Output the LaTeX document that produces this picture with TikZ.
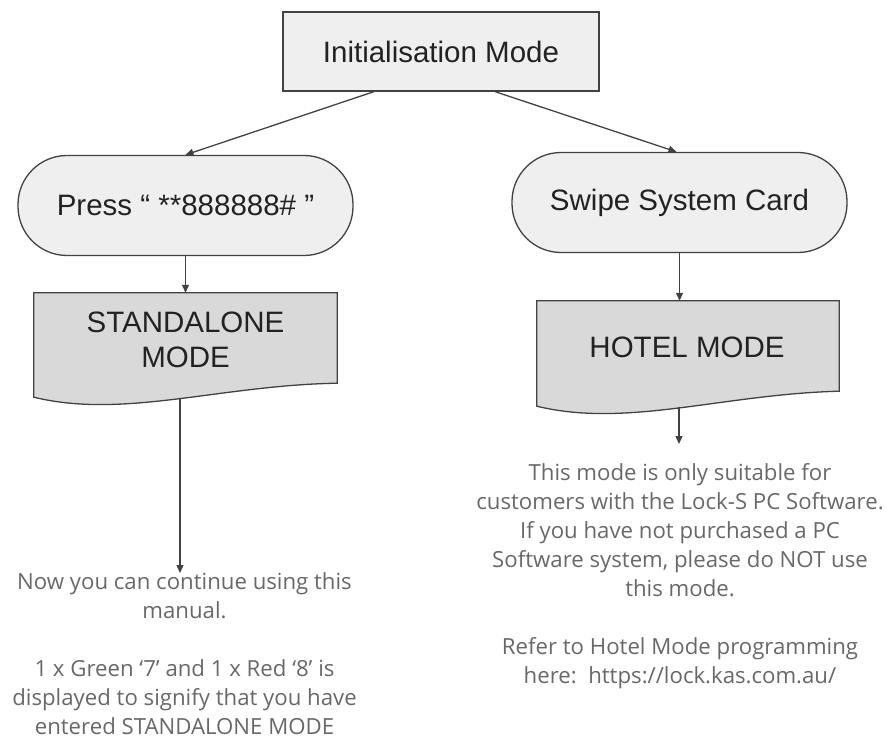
\documentclass[tikz,border=0pt]{standalone}
\usepackage{fontspec}
\setmainfont{Liberation Sans}
\newfontfamily\notefont{Open Sans}
\usetikzlibrary{arrows.meta,calc}
\definecolor{lightbox}{HTML}{EFEFEF}
\definecolor{darkbox}{HTML}{D9D9D9}
\definecolor{edge}{HTML}{424242}
\definecolor{boxtext}{HTML}{222222}
\definecolor{notetext}{HTML}{686868}
\tikzset{
  initbox/.style={draw=edge, fill=lightbox, line width=1.3pt, minimum width=316pt, minimum height=79pt,
    font=\fontsize{29.5}{35}\selectfont, text=boxtext, inner sep=0pt},
  pill/.style={draw=edge, fill=lightbox, line width=1.3pt, rounded corners=49pt, minimum height=100pt,
    font=\fontsize{29.5}{35}\selectfont, text=boxtext, inner sep=0pt},
  docbody/.style={minimum width=#1, inner sep=0pt, draw=none},
  doctext/.style={font=\fontsize{29.5}{35}\selectfont, text=boxtext, align=center, inner sep=0pt},
  docshape/.style={draw=edge, fill=darkbox, line width=1.3pt},
  note/.style={font=\notefont\fontsize{22.2}{29}\selectfont, text=notetext, align=center, inner sep=0pt},
  arr/.style={draw=edge, line width=1.3pt, -{Stealth[length=8pt,width=7pt,inset=0pt]}}
}
\begin{document}
\begin{tikzpicture}[x=1pt,y=-1pt]
\useasboundingbox (0,0) rectangle (887,738);
% top box
\node[initbox] (init) at (441,51.5) {Initialisation Mode};
% pills
\node[pill, minimum width=335pt] (lp) at (185.5,205.5) {Press “ **888888\# ”};
\node[pill, minimum width=335pt] (rp) at (679.5,202.5) {Swipe System Card};
% document bodies
\node[docbody=303pt, minimum height=104pt] (sa) at (185.5,345) {};
\node[docbody=302pt, minimum height=105pt] (hm) at (688,353.5) {};
\path[docshape] (sa.north west) -- (sa.north east) -- ([yshift=14pt]sa.south east)
  .. controls ($(sa.south west)+(186,-12)$) and ($(sa.south west)+(90,22)$) .. (sa.south west) -- cycle;
\path[docshape] (hm.north west) -- (hm.north east) -- ([yshift=15pt]hm.south east)
  .. controls ($(hm.south west)+(186,-12)$) and ($(hm.south west)+(90,22)$) .. (hm.south west) -- cycle;
\node[doctext] (satxt) at (185.5,339.5) {STANDALONE\\MODE};
\node[doctext] (hmtxt) at (687,347) {HOTEL MODE};
% notes
\node[note] (lnote) at (184.5,653.5) {Now you can continue using this\\manual.\\[29pt]1 x Green ‘7’ and 1 x Red ‘8’ is\\displayed to signify that you have\\entered STANDALONE MODE};
\node[note] (rnote) at (680,576.5) {This mode is only suitable for\\customers with the Lock-S PC Software.\\If you have not purchased a PC\\Software system, please do NOT use\\this mode.\\[29pt]Refer to Hotel Mode programming\\here:\ \ https://lock.kas.com.au/};
% connector endpoints
\coordinate (saout) at (180,399);
\coordinate (saend) at (180,573);
\coordinate (hmout) at (679,407);
\coordinate (hmend) at (679,444);
% connectors
\draw[arr] ([xshift=-67pt]init.south) -- (lp.north);
\draw[arr] ([xshift=54pt]init.south) -- ([xshift=-3pt]rp.north);
\draw[arr] (lp.south) -- (lp.south |- sa.north);
\draw[arr] (rp.south) -- (rp.south |- hm.north);
\draw[arr] (saout) -- (saend);
\draw[arr] (hmout) -- (hmend);
\end{tikzpicture}
\end{document}
